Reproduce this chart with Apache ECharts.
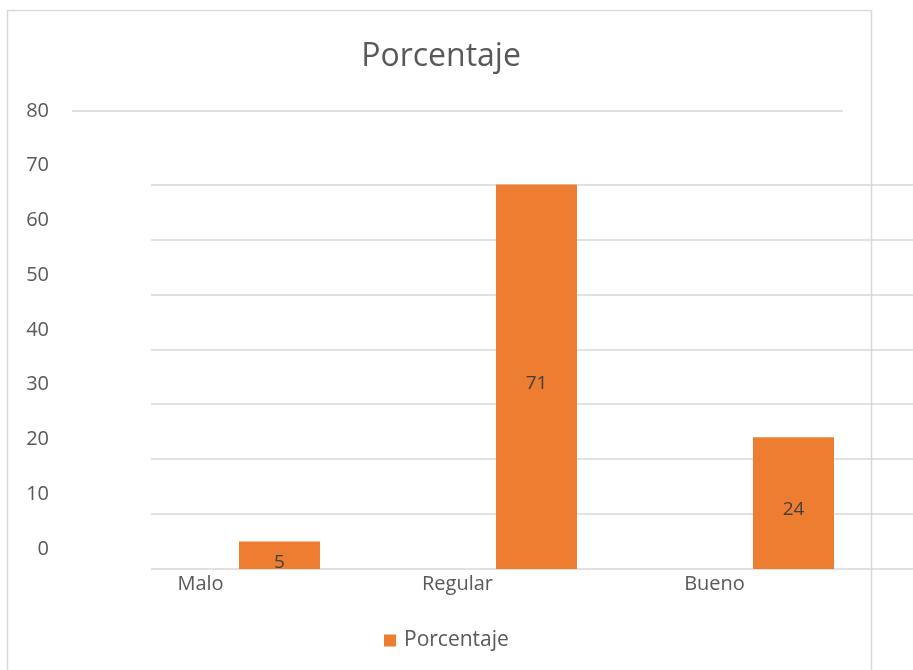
<!DOCTYPE html>
<html><head><meta charset="utf-8">
<script src="https://cdn.jsdelivr.net/npm/echarts@6/dist/echarts.min.js"></script>
<style>html,body{margin:0;padding:0;background:#fff;overflow:hidden}#c{width:930px;height:670px}</style>
</head><body><div id="c"></div>
<script>
const categories = ['Malo', 'Regular', 'Bueno'];
const values = [5, 71, 24];
const seriesName = 'Porcentaje';
const titleText = 'Porcentaje';
const yTicks = [0, 10, 20, 30, 40, 50, 60, 70, 80];

const font = '"Open Sans", "Liberation Sans", sans-serif';
const grey = '#595959';
const gridColor = '#d9d9d9';
const clear = 'rgba(0,0,0,0)';

const chart = echarts.init(document.getElementById('c'));
chart.setOption({
  animation: false,
  title: {
    text: titleText, left: 436, top: 36, textAlign: 'center',
    textStyle: { fontFamily: font, fontSize: 32, fontWeight: 'normal', color: grey }
  },
  legend: {
    data: [seriesName], left: 379, top: 625,
    itemWidth: 12, itemHeight: 12, icon: 'rect', itemGap: 6,
    textStyle: { fontFamily: font, fontSize: 21, color: grey, padding: [0, 0, 0, 3] }
  },
  graphic: [{
    type: 'rect', shape: { x: 7.5, y: 10.5, width: 864, height: 700 },
    style: { fill: 'none', stroke: '#d9d9d9', lineWidth: 1.5 }, silent: true, z: -1
  }],
  grid: [
    { left: 72, top: 111, width: 771, height: 438 },
    { left: 151, top: 184.5, width: 771, height: 384.5 }
  ],
  xAxis: [
    { type: 'category', gridIndex: 0, data: categories,
      axisLine: { show: false }, axisTick: { show: false },
      axisLabel: { margin: 25, fontFamily: font, fontSize: 20, color: grey } },
    { type: 'category', gridIndex: 1, data: categories,
      axisLine: { show: false }, axisTick: { show: false }, axisLabel: { show: false } }
  ],
  yAxis: [
    { type: 'value', gridIndex: 0, min: yTicks[0], max: yTicks[yTicks.length - 1], interval: 10,
      axisLine: { show: false }, axisTick: { show: false },
      axisLabel: { margin: 23, fontFamily: font, fontSize: 20, color: grey },
      splitLine: { show: true, lineStyle: { width: 1.5,
        color: yTicks.map((t, i) => i === yTicks.length - 1 ? gridColor : clear) } } },
    { type: 'value', gridIndex: 1, min: 0, max: 70, interval: 10,
      axisLine: { show: false }, axisTick: { show: false }, axisLabel: { show: false },
      splitLine: { show: true, lineStyle: { color: gridColor, width: 1.5 } } }
  ],
  series: [{
    name: seriesName, type: 'bar', xAxisIndex: 1, yAxisIndex: 1,
    data: values, barWidth: 81, clip: true,
    itemStyle: { color: '#ED7D31' },
    label: { show: true, position: 'inside', offset: [0, 7],
      fontFamily: font, fontSize: 19, color: '#404040' }
  }]
});
</script></body></html>
